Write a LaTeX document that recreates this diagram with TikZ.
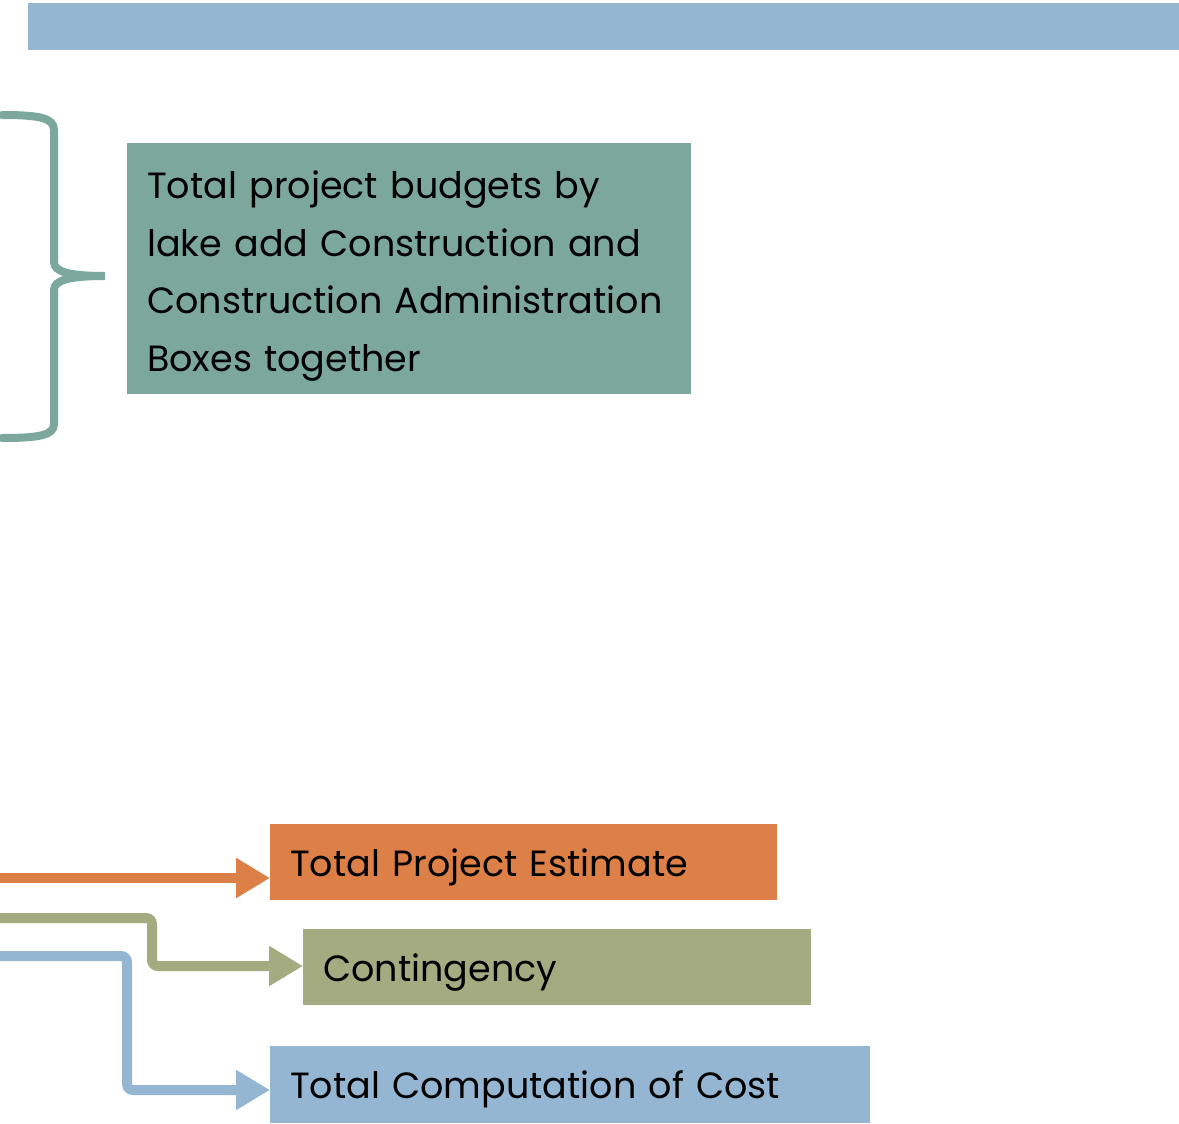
\documentclass[tikz,border=0pt]{standalone}
\usepackage{fontspec}
\setmainfont{Poppins}
\usetikzlibrary{arrows.meta}
\definecolor{cblue}{HTML}{94B6D2}
\definecolor{cteal}{HTML}{7BA79D}
\definecolor{corange}{HTML}{DD8047}
\definecolor{colive}{HTML}{A5AB81}
\newcommand{\lowr}[1]{\raisebox{-5pt}[\height][\depth]{#1}}
\tikzset{
  box/.style={anchor=north west, inner xsep=20pt, inner ysep=0pt, align=left,
    font=\fontsize{36.5}{57.5}\selectfont, text=black},
  flow/.style={line width=10pt, rounded corners=6pt,
    -{Triangle[width=38pt,length=34pt]}},
}
\begin{document}
\begin{tikzpicture}[x=1pt,y=-1pt]
\useasboundingbox (0,0) rectangle (1179,1124);
% top bar
\fill[cblue] (28,3) rectangle (1179,50);
% brace
\draw[cteal, line width=8pt, line cap=round]
  (2,115) .. controls (40,115) and (54,118) .. (54,130) -- (54,262)
  .. controls (54,272) and (70,276) .. (105,276)
  .. controls (70,276) and (54,280) .. (54,290) -- (54,424)
  .. controls (54,435) and (40,438) .. (2,438);
% teal box
\node[box, fill=cteal, minimum width=564pt, minimum height=251pt, text width=524pt] (tbox) at (127,143)
  {\lowr{\begin{tabular}{@{}l@{}}Total project budgets by\\lake add Construction and\\Construction Administration\\Boxes together\end{tabular}}};
% bottom boxes
\node[box, fill=corange, minimum width=507pt, minimum height=76pt, text width=467pt] (obox) at (270,824) {\lowr{Total Project Estimate}};
\node[box, fill=colive, minimum width=508pt, minimum height=76pt, text width=468pt] (gbox) at (303,929) {\lowr{Contingency}};
\node[box, fill=cblue, minimum width=600pt, minimum height=77pt, text width=560pt] (bbox) at (270,1046) {\lowr{Total Computation of Cost}};
% arrows
\coordinate (o0) at (0,878);
\coordinate (g0) at (0,918);
\coordinate (b0) at (0,956);
\draw[flow, corange] (o0) -- (o0 -| obox.west);
\draw[flow, colive] (g0) -- (152,918) -- (152,966) -- (152,966 -| gbox.west);
\draw[flow, cblue] (b0) -- (127,956) -- (127,1090) -- (127,1090 -| bbox.west);
\end{tikzpicture}
\end{document}
